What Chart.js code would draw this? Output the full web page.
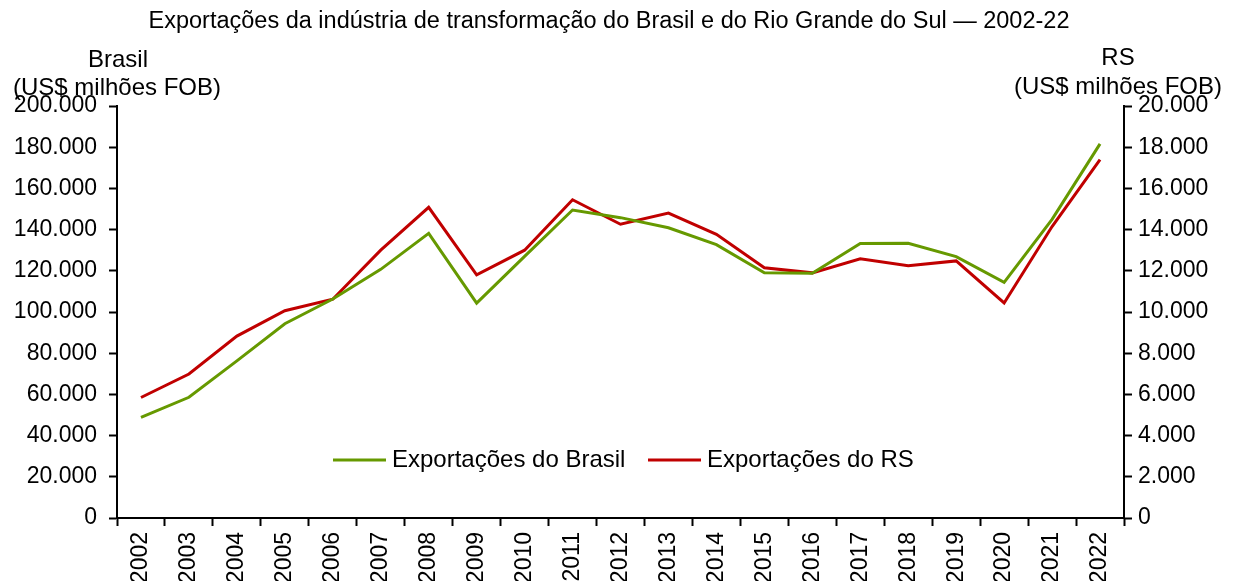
<!DOCTYPE html>
<html>
<head>
<meta charset="utf-8">
<script src="https://cdn.jsdelivr.net/npm/chart.js@4/dist/chart.umd.min.js"></script>
<style>
  html, body { margin: 0; padding: 0; background: #fff; }
  #wrap { width: 1233px; height: 581px; }
</style>
</head>
<body>
<div id="wrap"><canvas id="chart"></canvas></div>
<script>
const years = ['2002', '2003', '2004', '2005', '2006', '2007', '2008', '2009', '2010', '2011', '2012',
    '2013', '2014', '2015', '2016', '2017', '2018', '2019', '2020', '2021', '2022'];

// US$ milhões FOB
const brasil = [48800, 58600, 76300, 94300, 106300, 120700, 138200, 104300, 127000, 149500, 145800,
    140900, 132700, 119000, 118800, 133300, 133400, 126900, 114400, 145000, 181600];
const rs = [5850, 6990, 8830, 10060, 10620, 13000, 15080, 11800, 13000, 15450, 14260,
    14800, 13770, 12150, 11900, 12580, 12250, 12480, 10440, 14150, 17400];

const seriesNames = ['Exportações do Brasil', 'Exportações do RS'];
const chartTitle = 'Exportações da indústria de transformação do Brasil e do Rio Grande do Sul — 2002-22';

const FONT = '"Liberation Sans", Arial, sans-serif';

const fmt = (v) => String(v).replace(/\B(?=(\d{3})+(?!\d))/g, '.');

// title, axis titles and the legend inside the plot
const textPlugin = {
    id: 'textPlugin',
    afterDraw(chart) {
        const ctx = chart.ctx;
        ctx.save();
        ctx.fillStyle = '#000';
        ctx.textBaseline = 'middle';
        ctx.textAlign = 'center';
        ctx.font = '23.5px ' + FONT;
        ctx.fillText(chartTitle, 609, 22);

        ctx.font = '24px ' + FONT;
        ctx.fillText('Brasil', 118, 60);
        ctx.fillText('(US$ milhões FOB)', 117, 88);
        ctx.fillText('RS', 1118, 58);
        ctx.fillText('(US$ milhões FOB)', 1118, 87);

        // legend
        const legendY = 460;
        const starts = [333, 648];
        ctx.textAlign = 'left';
        chart.data.datasets.forEach((ds, i) => {
            const x = starts[i];
            ctx.strokeStyle = ds.borderColor;
            ctx.lineWidth = 3;
            ctx.beginPath();
            ctx.moveTo(x, legendY);
            ctx.lineTo(x + 53, legendY);
            ctx.stroke();
            ctx.fillStyle = '#000';
            ctx.fillText(ds.label, x + 59, legendY);
        });
        ctx.restore();
    }
};

const axisGrid = {
    drawOnChartArea: false,
    tickLength: 8,
    tickColor: '#000',
    tickWidth: 2
};
const axisBorder = { color: '#000', width: 2 };
const tickFont = { family: FONT, size: 23 };

new Chart(document.getElementById('chart').getContext('2d'), {
    type: 'line',
    data: {
        labels: years,
        datasets: [
            {
                label: seriesNames[0],
                data: brasil,
                yAxisID: 'y',
                borderColor: '#669900',
                borderWidth: 3,
                pointRadius: 0,
                tension: 0
            },
            {
                label: seriesNames[1],
                data: rs,
                yAxisID: 'y2',
                borderColor: '#c00000',
                borderWidth: 3,
                pointRadius: 0,
                tension: 0
            }
        ]
    },
    options: {
        responsive: true,
        maintainAspectRatio: false,
        animation: false,
        layout: { padding: { top: 106, left: 0, right: 0, bottom: 0 } },
        plugins: {
            legend: { display: false },
            title: { display: false },
            tooltip: { enabled: false }
        },
        scales: {
            x: {
                offset: true,
                grid: { ...axisGrid, offset: true },
                border: axisBorder,
                ticks: { color: '#000', font: tickFont, minRotation: 90, maxRotation: 90, padding: 6, autoSkip: false },
                afterFit: (s) => { s.height = 63; }
            },
            y: {
                position: 'left',
                min: 0,
                max: 200000,
                grid: axisGrid,
                border: axisBorder,
                ticks: { stepSize: 20000, color: '#000', font: tickFont, padding: 12, callback: (v) => fmt(v) },
                afterFit: (s) => { s.width = 117; }
            },
            y2: {
                position: 'right',
                min: 0,
                max: 20000,
                grid: axisGrid,
                border: axisBorder,
                ticks: { stepSize: 2000, color: '#000', font: tickFont, padding: 6, callback: (v) => fmt(v) },
                afterFit: (s) => { s.width = 109; }
            }
        }
    },
    plugins: [textPlugin]
});
</script>
</body>
</html>
